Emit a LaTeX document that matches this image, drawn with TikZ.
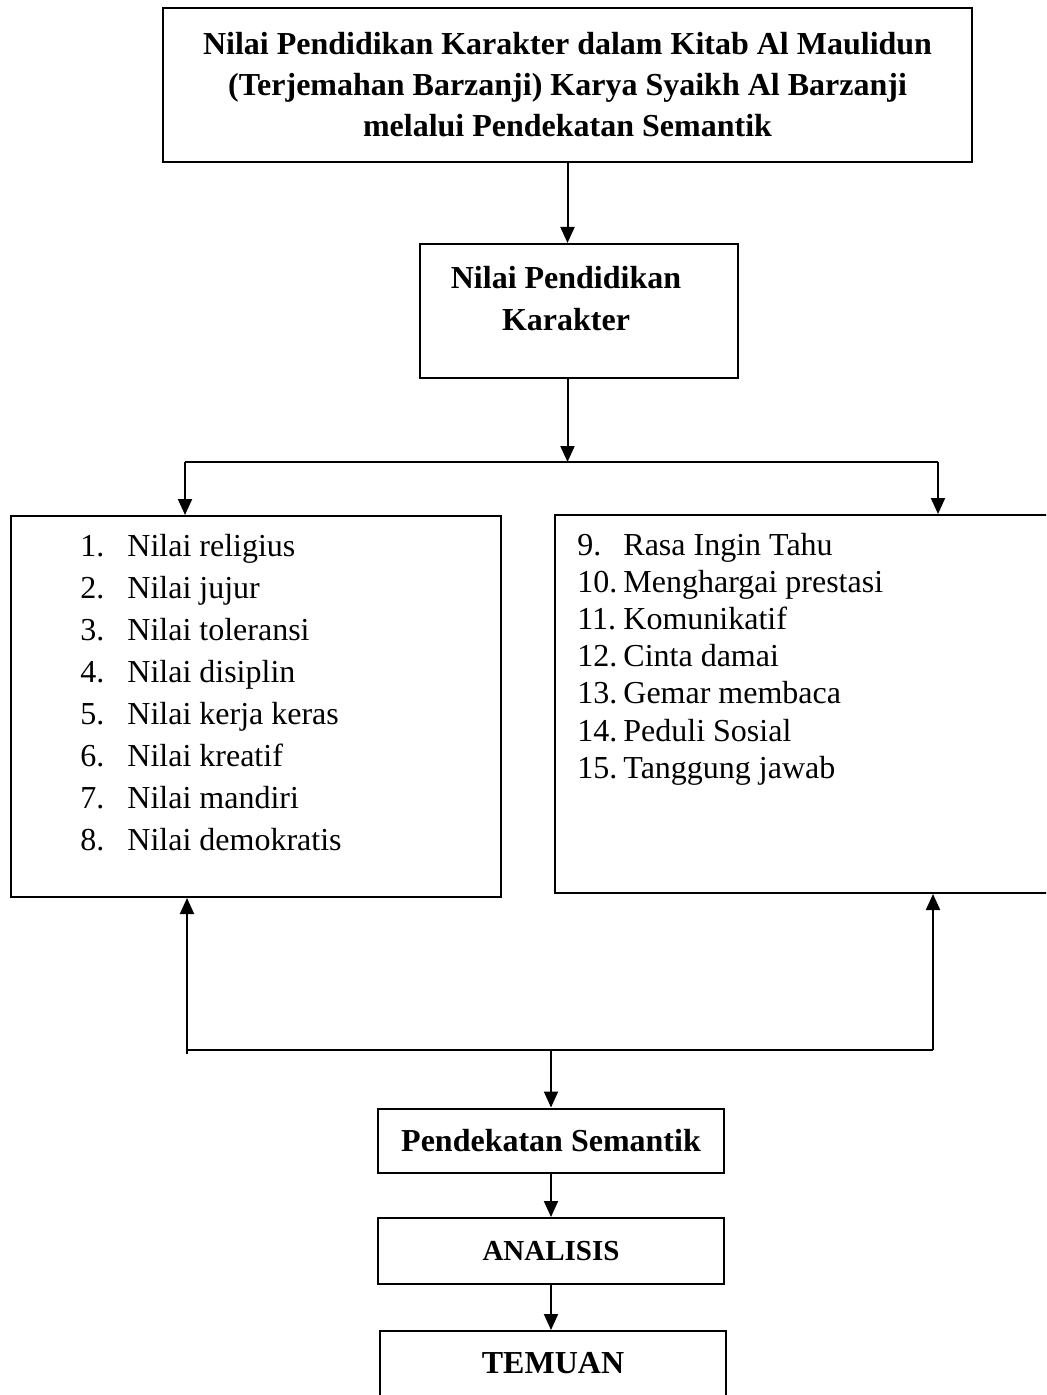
\documentclass[tikz,border=0pt]{standalone}
\usepackage{fontspec}
\setmainfont{Liberation Serif}
\usetikzlibrary{arrows.meta,positioning,calc}

\tikzset{
  kotak/.style={draw, line width=1pt, rectangle, inner sep=0pt},
  panah/.style={line width=1pt, -{Triangle[length=8pt,width=7pt]}},
  garis/.style={line width=1pt},
  tebal/.style={font=\fontsize{16pt}{20.5pt}\selectfont\bfseries, align=center},
  isi/.style={font=\fontsize{16pt}{19pt}\selectfont, anchor=base west, inner sep=0pt},
}

\begin{document}
\begin{tikzpicture}[x=0.5pt,y=-0.5pt]
\useasboundingbox (0,0) rectangle (1046,1395);
\clip (0,0) rectangle (1046,1395);

% kotak utama
\node[kotak, tebal, line width=1.4pt, minimum width=404.5pt, minimum height=77pt] (judul) at (567.5,85)
  {Nilai Pendidikan Karakter dalam Kitab Al Maulidun\\(Terjemahan Barzanji) Karya Syaikh Al Barzanji\\melalui Pendekatan Semantik};
\node[kotak, minimum width=159pt, minimum height=67pt] (karakter) at (579,311) {};
\node[tebal, font=\fontsize{16pt}{21pt}\selectfont\bfseries] (karaktertxt) at (566,299) {Nilai Pendidikan\\Karakter};

% dua kotak daftar nilai
\node[kotak, minimum width=245pt, minimum height=190.5pt] (kiri) at (256,706.5) {};
\node[kotak, minimum width=252.5pt, minimum height=189pt] (kanan) at (807.5,704) {};

\foreach \n/\teks [count=\i from 0] in {1/Nilai religius, 2/Nilai jujur, 3/Nilai toleransi, 4/Nilai disiplin,
    5/Nilai kerja keras, 6/Nilai kreatif, 7/Nilai mandiri, 8/Nilai demokratis} {
    \node[isi] (nomor\n) at (80,{556+42.1*\i}) {\n.};
    \node[isi] (nilai\n) at (127,{556+42.1*\i}) {\teks};
}
\foreach \n/\teks [count=\i from 0] in {9/Rasa Ingin Tahu, 10/Menghargai prestasi, 11/Komunikatif,
    12/Cinta damai, 13/Gemar membaca, 14/Peduli Sosial, 15/Tanggung jawab} {
    \node[isi] (nomor\n) at (577,{555+37.2*\i}) {\n.};
    \node[isi] (nilai\n) at (623,{555+37.2*\i}) {\teks};
}

% kotak bawah
\node[kotak, tebal, minimum width=173pt, minimum height=32pt] (pendekatan) at (551,1140.5) {Pendekatan Semantik};
\node[kotak, tebal, font=\fontsize{14.5pt}{18pt}\selectfont\bfseries, minimum width=173pt, minimum height=33pt] (analisis) at (551,1251) {ANALISIS};
\node[kotak, minimum width=173pt, minimum height=54.5pt] (temuan) at (553,1385.5) {};
\node[tebal] (temuantxt) at (553,1363) {TEMUAN};

% titik cabang
\coordinate (cabang) at (567.5,462);
\coordinate (cabangL) at (185,462);
\coordinate (cabangR) at (938,462);
\coordinate (gabung) at (551,1050);
\coordinate (gabungL) at (187,1050);
\coordinate (gabungR) at (933,1050);

% panah
\draw[panah] (judul.south) -- (judul.south |- karakter.north);
\draw[panah] (judul.south |- karakter.south) -- (cabang);
\draw[garis] (cabangL) -- (cabangR);
\draw[panah] (cabangL) -- (cabangL |- kiri.north);
\draw[panah] (cabangR) -- (cabangR |- kanan.north);

\draw[garis] (gabungL) -- (gabungR);
\draw[panah] ($(gabungL)+(0,4)$) -- (gabungL |- kiri.south);
\draw[panah] (gabungR) -- (gabungR |- kanan.south);
\draw[panah] (gabung) -- (pendekatan.north);
\draw[panah] (pendekatan) -- (analisis);
\draw[panah] (analisis.south) -- (analisis.south |- temuan.north);

\end{tikzpicture}
\end{document}
